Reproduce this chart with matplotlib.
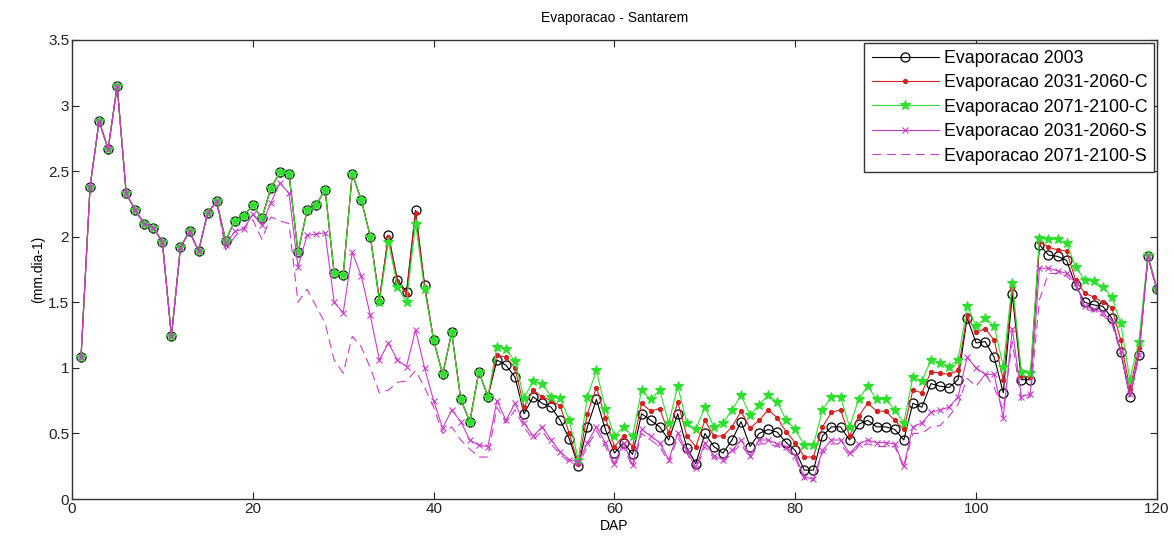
import numpy as np
import matplotlib
matplotlib.use("Agg")
import matplotlib.pyplot as plt

# DAP (dias apos plantio)
dap = np.arange(1, 121)

# Evaporacao 2003
evap_2003 = [1.08, 2.38, 2.88, 2.67, 3.15, 2.33, 2.20, 2.10, 2.07, 1.96,
             1.24, 1.92, 2.04, 1.89, 2.18, 2.27, 1.97, 2.12, 2.16, 2.24,
             2.14, 2.37, 2.49, 2.48, 1.88, 2.20, 2.24, 2.36, 1.72, 1.71,
             2.48, 2.28, 2.00, 1.52, 2.01, 1.67, 1.58, 2.20, 1.63, 1.21,
             0.95, 1.27, 0.76, 0.59, 0.97, 0.78, 1.06, 1.02, 0.93, 0.65,
             0.78, 0.73, 0.70, 0.60, 0.46, 0.25, 0.55, 0.76, 0.53, 0.35,
             0.43, 0.34, 0.65, 0.60, 0.55, 0.45, 0.65, 0.39, 0.27, 0.50,
             0.40, 0.35, 0.45, 0.59, 0.40, 0.50, 0.53, 0.51, 0.43, 0.37,
             0.22, 0.22, 0.48, 0.55, 0.55, 0.45, 0.57, 0.60, 0.55, 0.55,
             0.53, 0.45, 0.73, 0.70, 0.88, 0.86, 0.85, 0.91, 1.38, 1.19,
             1.20, 1.08, 0.81, 1.56, 0.91, 0.91, 1.94, 1.86, 1.85, 1.82,
             1.63, 1.50, 1.48, 1.47, 1.38, 1.12, 0.78, 1.10, 1.85, 1.60]

# Evaporacao 2031-2060-C
evap_2031_c = evap_2003[:33] + [
             1.52, 2.00, 1.66, 1.56, 2.18, 1.62, 1.21,
             0.95, 1.27, 0.76, 0.59, 0.97, 0.78, 1.10, 1.08, 1.00, 0.70,
             0.83, 0.78, 0.75, 0.71, 0.50, 0.27, 0.65, 0.85, 0.62, 0.40,
             0.48, 0.40, 0.73, 0.67, 0.69, 0.50, 0.74, 0.48, 0.40, 0.60,
             0.48, 0.48, 0.55, 0.67, 0.54, 0.60, 0.68, 0.62, 0.51, 0.43,
             0.32, 0.32, 0.55, 0.66, 0.68, 0.48, 0.63, 0.73, 0.67, 0.67,
             0.60, 0.53, 0.83, 0.81, 0.97, 0.96, 0.95, 0.98, 1.40, 1.27,
             1.30, 1.21, 0.91, 1.61, 0.94, 0.93, 1.96, 1.92, 1.90, 1.89,
             1.67, 1.57, 1.54, 1.50, 1.46, 1.21, 0.84, 1.15, 1.85, 1.60]

# Evaporacao 2071-2100-C
evap_2071_c = evap_2003[:33] + [
             1.50, 1.96, 1.62, 1.50, 2.10, 1.60, 1.21,
             0.95, 1.27, 0.76, 0.59, 0.97, 0.78, 1.16, 1.14, 1.05, 0.77,
             0.90, 0.88, 0.78, 0.77, 0.60, 0.30, 0.78, 0.98, 0.69, 0.48,
             0.55, 0.48, 0.83, 0.76, 0.83, 0.58, 0.86, 0.58, 0.53, 0.70,
             0.55, 0.58, 0.68, 0.79, 0.64, 0.72, 0.79, 0.74, 0.60, 0.53,
             0.41, 0.41, 0.68, 0.78, 0.78, 0.55, 0.76, 0.86, 0.76, 0.76,
             0.68, 0.58, 0.93, 0.90, 1.06, 1.04, 1.01, 1.06, 1.47, 1.32,
             1.38, 1.32, 1.01, 1.65, 0.97, 0.96, 1.99, 1.98, 1.98, 1.95,
             1.77, 1.67, 1.66, 1.62, 1.54, 1.34, 0.91, 1.20, 1.86, 1.60]

# Evaporacao 2031-2060-S
evap_2031_s = evap_2003[:16] + [
             1.94, 2.04, 2.06, 2.17,
             2.09, 2.26, 2.41, 2.33, 1.77, 2.01, 2.02, 2.03, 1.50, 1.42,
             1.88, 1.70, 1.40, 1.06, 1.19, 1.06, 1.01, 1.29, 1.00, 0.75,
             0.54, 0.68, 0.59, 0.45, 0.41, 0.40, 0.75, 0.60, 0.73, 0.58,
             0.48, 0.55, 0.45, 0.36, 0.30, 0.28, 0.43, 0.55, 0.43, 0.27,
             0.43, 0.26, 0.53, 0.48, 0.43, 0.30, 0.50, 0.37, 0.24, 0.43,
             0.33, 0.30, 0.37, 0.45, 0.33, 0.45, 0.45, 0.42, 0.40, 0.33,
             0.17, 0.15, 0.37, 0.45, 0.45, 0.35, 0.42, 0.45, 0.43, 0.43,
             0.42, 0.25, 0.55, 0.58, 0.66, 0.68, 0.70, 0.78, 1.08, 1.00,
             0.95, 0.95, 0.62, 1.30, 0.78, 0.80, 1.76, 1.76, 1.74, 1.72,
             1.65, 1.47, 1.45, 1.42, 1.36, 1.13, 0.80, 1.10, 1.85, 1.60]

# Evaporacao 2071-2100-S
evap_2071_s = evap_2003[:16] + [
             1.90, 2.00, 2.07, 2.13,
             1.98, 2.15, 2.12, 2.10, 1.50, 1.60, 1.47, 1.34, 1.06, 0.96,
             1.24, 1.16, 1.00, 0.81, 0.83, 0.89, 0.90, 0.98, 0.85, 0.70,
             0.50, 0.55, 0.45, 0.38, 0.32, 0.32, 0.70, 0.58, 0.68, 0.55,
             0.45, 0.52, 0.42, 0.34, 0.28, 0.26, 0.40, 0.52, 0.40, 0.25,
             0.40, 0.24, 0.50, 0.45, 0.40, 0.28, 0.47, 0.35, 0.22, 0.40,
             0.31, 0.28, 0.35, 0.42, 0.31, 0.42, 0.42, 0.40, 0.38, 0.31,
             0.15, 0.14, 0.35, 0.42, 0.42, 0.33, 0.40, 0.42, 0.40, 0.40,
             0.40, 0.24, 0.50, 0.50, 0.55, 0.56, 0.63, 0.72, 0.92, 0.86,
             0.95, 0.85, 0.68, 1.20, 0.75, 0.78, 1.52, 1.72, 1.72, 1.70,
             1.63, 1.45, 1.43, 1.40, 1.34, 1.11, 0.78, 1.08, 1.84, 1.58]

plt.rcParams['font.family'] = ['Liberation Sans', 'DejaVu Sans']

fig = plt.figure(figsize=(11.74, 5.39), dpi=100)
ax = fig.add_axes([0.0613, 0.0742, 0.9242, 0.8516])

ax.plot(dap, evap_2003, '-o', color='black', lw=0.8, ms=6.5, mfc='none',
        mew=0.9, label='Evaporacao 2003')
ax.plot(dap, evap_2031_c, '-', color='#d42020', lw=0.8, marker='.',
        ms=5.5, label='Evaporacao 2031-2060-C')
ax.plot(dap, evap_2071_c, '-', color='#2ee02e', lw=0.8, marker='*',
        ms=7.5, mew=0.8, label='Evaporacao 2071-2100-C')
ax.plot(dap, evap_2031_s, '-', color='#c83cc8', lw=0.8, marker='x',
        ms=4.5, mew=0.8, label='Evaporacao 2031-2060-S')
ax.plot(dap, evap_2071_s, '--', color='#c83cc8', lw=0.8, dashes=(8, 5),
        label='Evaporacao 2071-2100-S')

ax.set_xlim(0, 120)
ax.set_ylim(0, 3.5)
ax.set_xticks(np.arange(0, 121, 20))
ax.set_yticks(np.arange(0, 3.51, 0.5))
ax.set_yticklabels(['0', '0.5', '1', '1.5', '2', '2.5', '3', '3.5'])
ax.tick_params(direction='in', top=True, right=True, length=5,
               labelsize=11, colors='#222222', pad=2)
for s in ax.spines.values():
    s.set_color('#333333')
    s.set_linewidth(1.0)

ax.set_title('Evaporacao - Santarem', fontsize=10, pad=13)
ax.set_xlabel('DAP', fontsize=10, labelpad=2)
ax.set_ylabel('(mm.dia-1)', fontsize=10, labelpad=2)

leg = ax.legend(loc='upper right', fontsize=12.8, handlelength=3.8,
                borderaxespad=0.15, borderpad=0.4, labelspacing=0.42,
                handletextpad=0.25, fancybox=False, framealpha=1)
leg.get_frame().set_edgecolor('#333333')
leg.get_frame().set_linewidth(1.0)

fig.savefig('out.png', dpi=100)
